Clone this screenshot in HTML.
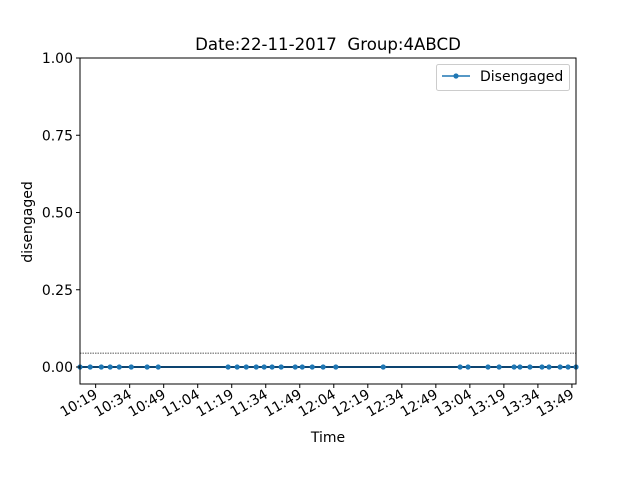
<!DOCTYPE html>
<html><head><meta charset="utf-8"><style>
body{margin:0;background:#fff;}
text{font-family:"DejaVu Sans","Liberation Sans",sans-serif;fill:#000;}
</style></head><body>
<svg id="chart" width="640" height="480" xmlns="http://www.w3.org/2000/svg">
<text x="328" y="50" font-size="16.6" text-anchor="middle" xml:space="preserve">Date:22-11-2017  Group:4ABCD</text>
<g id="plot"></g>
<text x="328" y="442" font-size="14" text-anchor="middle">Time</text>
<text transform="translate(32,222) rotate(-90)" font-size="14" text-anchor="middle">disengaged</text>
</svg>
<script>
// times in minutes after 10:00
const times=[12.1,16.6,21.5,25.4,29.4,34.7,41.7,46.6,77.4,81.4,85.4,89.8,93.3,96.8,100.8,107.0,110.1,114.5,119.3,124.9,145.8,179.7,183.2,192.0,196.9,203.5,206.1,210.5,215.8,218.9,223.8,227.3,230.8];
const values=[0,0,0,0,0,0,0,0,0,0,0,0,0,0,0,0,0,0,0,0,0,0,0,0,0,0,0,0,0,0,0,0,0];
const threshold=[0.045];
const yTicks=[0,0.25,0.5,0.75,1.0];
const yTickLabels=["0.00","0.25","0.50","0.75","1.00"];
const xTicks=[19,34,49,64,79,94,109,124,139,154,169,184,199,214,229];
const xTickLabels=["10:19","10:34","10:49","11:04","11:19","11:34","11:49","12:04","12:19","12:34","12:49","13:04","13:19","13:34","13:49"];

const L=80,R=576,T=58,B=384;
const xmin=Math.min(...times),xmax=Math.max(...times);
const ymin=-0.055,ymax=1.0;
const X=v=>L+(v-xmin)/(xmax-xmin)*(R-L);
const Y=v=>B-(v-ymin)/(ymax-ymin)*(B-T);
const NS="http://www.w3.org/2000/svg";
const g=document.getElementById('plot');
function mk(tag,a,parent){const e=document.createElementNS(NS,tag);for(const k in a)e.setAttribute(k,a[k]);(parent||g).appendChild(e);return e;}

threshold.forEach(t=>{
 const e=mk('line',{x1:L,x2:R,y1:Y(t),y2:Y(t),stroke:'#222','stroke-width':0.7,'stroke-dasharray':'1.5,1'});
 
 
});
let d='';
times.forEach((t,i)=>{d+=(i?'L':'M')+X(t)+','+Y(values[i]);});
const line=mk('path',{d:d,fill:'none',stroke:'#0d4470','stroke-width':2});


times.forEach((t,i)=>{
 const c=mk('circle',{cx:X(t),cy:Y(values[i]),r:2.6,fill:'#1f77b4'});
 
 
});
const frame=mk('rect',{x:L,y:T,width:R-L,height:B-T,fill:'none',stroke:'#000','stroke-width':1});



yTicks.forEach((v,i)=>{
 const tk=mk('line',{x1:L-4,x2:L,y1:Y(v),y2:Y(v),stroke:'#000','stroke-width':1});
 
 
 const tx=mk('text',{x:L-7,y:Y(v)+5,'font-size':14,'text-anchor':'end'});
 tx.textContent=yTickLabels[i];
 
 
});
xTicks.forEach((v,i)=>{
 const x=X(v);
 const tk=mk('line',{x1:x,x2:x,y1:B,y2:B+4,stroke:'#000','stroke-width':1});
 
 
 const tx=mk('text',{transform:`translate(${x+3},${B+13}) rotate(-30)`,'font-size':14,'text-anchor':'end'});
 tx.textContent=xTickLabels[i];
 
 
});

const lg=mk('g',{});


mk('rect',{x:436.5,y:64.5,width:133,height:26,rx:2,fill:'#fff',stroke:'#ccc'},lg);
mk('line',{x1:442,x2:470,y1:76,y2:76,stroke:'#1f77b4','stroke-width':1.5},lg);
mk('circle',{cx:456,cy:76,r:2.6,fill:'#1f77b4'},lg);
const lt=mk('text',{x:480,y:81,'font-size':14},lg);
lt.textContent='Disengaged';


</script>
</body></html>
